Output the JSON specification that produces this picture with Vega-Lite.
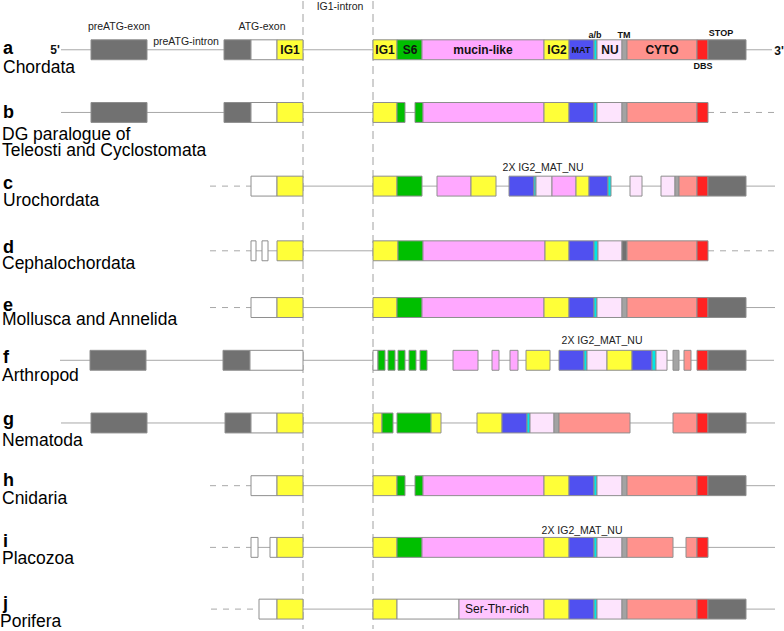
{
  "$schema": "https://vega.github.io/schema/vega-lite/v6.json",
  "width": 784,
  "height": 631,
  "autosize": {"type": "fit", "contains": "padding"},
  "padding": 0,
  "background": "white",
  "config": {"view": {"stroke": null}, "text": {"font": "Liberation Sans"}},
  "datasets": {
    "rows": [
      {"row": "a", "top": 39, "mid": 49, "bottom": 59},
      {"row": "b", "top": 102, "mid": 112, "bottom": 122},
      {"row": "c", "top": 176, "mid": 186, "bottom": 196},
      {"row": "d", "top": 241, "mid": 251, "bottom": 261},
      {"row": "e", "top": 298, "mid": 308, "bottom": 318},
      {"row": "f", "top": 351, "mid": 361, "bottom": 371},
      {"row": "g", "top": 414, "mid": 424, "bottom": 434},
      {"row": "h", "top": 477, "mid": 487, "bottom": 497},
      {"row": "i", "top": 539, "mid": 549, "bottom": 559},
      {"row": "j", "top": 601, "mid": 611, "bottom": 621}
    ],
    "boundaries": [
      {"name": "IG1 exon end", "x": 303},
      {"name": "IG1 intron end", "x": 373}
    ],
    "lines": [
      {"row": "a", "x0": 61, "x1": 772, "kind": "intron"},
      {"row": "b", "x0": 61, "x1": 708, "kind": "intron"},
      {"row": "b", "x0": 708, "x1": 775, "kind": "unknown"},
      {"row": "c", "x0": 210, "x1": 251, "kind": "unknown"},
      {"row": "c", "x0": 251, "x1": 775, "kind": "intron"},
      {"row": "d", "x0": 210, "x1": 251, "kind": "unknown"},
      {"row": "d", "x0": 251, "x1": 708, "kind": "intron"},
      {"row": "d", "x0": 708, "x1": 775, "kind": "unknown"},
      {"row": "e", "x0": 210, "x1": 251, "kind": "unknown"},
      {"row": "e", "x0": 251, "x1": 775, "kind": "intron"},
      {"row": "f", "x0": 60, "x1": 774, "kind": "intron"},
      {"row": "g", "x0": 61, "x1": 775, "kind": "intron"},
      {"row": "h", "x0": 210, "x1": 251, "kind": "unknown"},
      {"row": "h", "x0": 251, "x1": 775, "kind": "intron"},
      {"row": "i", "x0": 210, "x1": 251, "kind": "unknown"},
      {"row": "i", "x0": 251, "x1": 775, "kind": "intron"},
      {"row": "j", "x0": 211, "x1": 259, "kind": "unknown"},
      {"row": "j", "x0": 259, "x1": 775, "kind": "intron"}
    ],
    "boxes": [
      {"row": "a", "x0": 91, "x1": 147, "part": "UTR"},
      {"row": "a", "x0": 224, "x1": 251, "part": "UTR"},
      {"row": "a", "x0": 251, "x1": 277, "part": "other"},
      {"row": "a", "x0": 277, "x1": 303, "part": "IG"},
      {"row": "a", "x0": 373, "x1": 397, "part": "IG"},
      {"row": "a", "x0": 397, "x1": 422, "part": "S6"},
      {"row": "a", "x0": 422, "x1": 544, "part": "mucin"},
      {"row": "a", "x0": 544, "x1": 569, "part": "IG"},
      {"row": "a", "x0": 569, "x1": 594, "part": "MAT"},
      {"row": "a", "x0": 594, "x1": 597, "part": "ab"},
      {"row": "a", "x0": 597, "x1": 622, "part": "NU"},
      {"row": "a", "x0": 622, "x1": 627, "part": "TM"},
      {"row": "a", "x0": 627, "x1": 697, "part": "CYTO"},
      {"row": "a", "x0": 697, "x1": 708, "part": "DBS"},
      {"row": "a", "x0": 708, "x1": 746, "part": "UTR"},

      {"row": "b", "x0": 91, "x1": 147, "part": "UTR"},
      {"row": "b", "x0": 224, "x1": 251, "part": "UTR"},
      {"row": "b", "x0": 251, "x1": 277, "part": "other"},
      {"row": "b", "x0": 277, "x1": 303, "part": "IG"},
      {"row": "b", "x0": 373, "x1": 397, "part": "IG"},
      {"row": "b", "x0": 397, "x1": 405, "part": "S6"},
      {"row": "b", "x0": 415, "x1": 423, "part": "S6"},
      {"row": "b", "x0": 423, "x1": 544, "part": "mucin"},
      {"row": "b", "x0": 544, "x1": 569, "part": "IG"},
      {"row": "b", "x0": 569, "x1": 594, "part": "MAT"},
      {"row": "b", "x0": 594, "x1": 597, "part": "ab"},
      {"row": "b", "x0": 597, "x1": 622, "part": "NU"},
      {"row": "b", "x0": 622, "x1": 627, "part": "TM"},
      {"row": "b", "x0": 627, "x1": 697, "part": "CYTO"},
      {"row": "b", "x0": 697, "x1": 708, "part": "DBS"},

      {"row": "c", "x0": 251, "x1": 277, "part": "other"},
      {"row": "c", "x0": 277, "x1": 303, "part": "IG", "uncertain": true},
      {"row": "c", "x0": 373, "x1": 397, "part": "IG", "uncertain": true},
      {"row": "c", "x0": 397, "x1": 422, "part": "S6"},
      {"row": "c", "x0": 437, "x1": 471, "part": "mucin"},
      {"row": "c", "x0": 471, "x1": 496, "part": "IG"},
      {"row": "c", "x0": 509, "x1": 534, "part": "MAT"},
      {"row": "c", "x0": 534, "x1": 536, "part": "ab"},
      {"row": "c", "x0": 536, "x1": 552, "part": "NU"},
      {"row": "c", "x0": 552, "x1": 576, "part": "mucin"},
      {"row": "c", "x0": 576, "x1": 589, "part": "IG"},
      {"row": "c", "x0": 589, "x1": 608, "part": "MAT"},
      {"row": "c", "x0": 608, "x1": 611, "part": "ab"},
      {"row": "c", "x0": 630, "x1": 642, "part": "NU"},
      {"row": "c", "x0": 661, "x1": 675, "part": "NU"},
      {"row": "c", "x0": 675, "x1": 679, "part": "TM"},
      {"row": "c", "x0": 679, "x1": 697, "part": "CYTO"},
      {"row": "c", "x0": 697, "x1": 708, "part": "DBS"},
      {"row": "c", "x0": 708, "x1": 746, "part": "UTR"},

      {"row": "d", "x0": 251, "x1": 256, "part": "other"},
      {"row": "d", "x0": 262, "x1": 268, "part": "other"},
      {"row": "d", "x0": 277, "x1": 303, "part": "IG"},
      {"row": "d", "x0": 373, "x1": 398, "part": "IG"},
      {"row": "d", "x0": 398, "x1": 423, "part": "S6"},
      {"row": "d", "x0": 423, "x1": 545, "part": "mucin"},
      {"row": "d", "x0": 545, "x1": 569, "part": "IG"},
      {"row": "d", "x0": 569, "x1": 594, "part": "MAT"},
      {"row": "d", "x0": 594, "x1": 598, "part": "ab"},
      {"row": "d", "x0": 598, "x1": 622, "part": "NU"},
      {"row": "d", "x0": 622, "x1": 627, "part": "UTR"},
      {"row": "d", "x0": 627, "x1": 697, "part": "CYTO"},
      {"row": "d", "x0": 697, "x1": 708, "part": "DBS"},

      {"row": "e", "x0": 251, "x1": 277, "part": "other"},
      {"row": "e", "x0": 277, "x1": 303, "part": "IG"},
      {"row": "e", "x0": 373, "x1": 397, "part": "IG"},
      {"row": "e", "x0": 397, "x1": 422, "part": "S6"},
      {"row": "e", "x0": 422, "x1": 544, "part": "mucin"},
      {"row": "e", "x0": 544, "x1": 569, "part": "IG"},
      {"row": "e", "x0": 569, "x1": 594, "part": "MAT"},
      {"row": "e", "x0": 594, "x1": 597, "part": "ab"},
      {"row": "e", "x0": 597, "x1": 622, "part": "NU"},
      {"row": "e", "x0": 622, "x1": 627, "part": "TM"},
      {"row": "e", "x0": 627, "x1": 697, "part": "CYTO"},
      {"row": "e", "x0": 697, "x1": 708, "part": "DBS"},
      {"row": "e", "x0": 708, "x1": 746, "part": "UTR"},

      {"row": "f", "x0": 90, "x1": 146, "part": "UTR"},
      {"row": "f", "x0": 223, "x1": 250, "part": "UTR"},
      {"row": "f", "x0": 250, "x1": 303, "part": "other"},
      {"row": "f", "x0": 373, "x1": 378, "part": "other"},
      {"row": "f", "x0": 378, "x1": 385, "part": "S6"},
      {"row": "f", "x0": 388, "x1": 395, "part": "S6"},
      {"row": "f", "x0": 398, "x1": 405, "part": "S6"},
      {"row": "f", "x0": 409, "x1": 416, "part": "S6"},
      {"row": "f", "x0": 420, "x1": 427, "part": "S6"},
      {"row": "f", "x0": 453, "x1": 478, "part": "mucin", "uncertain": true},
      {"row": "f", "x0": 492, "x1": 499, "part": "mucin"},
      {"row": "f", "x0": 510, "x1": 518, "part": "mucin"},
      {"row": "f", "x0": 526, "x1": 550, "part": "IG"},
      {"row": "f", "x0": 559, "x1": 584, "part": "MAT"},
      {"row": "f", "x0": 584, "x1": 587, "part": "ab"},
      {"row": "f", "x0": 587, "x1": 607, "part": "NU"},
      {"row": "f", "x0": 607, "x1": 632, "part": "IG"},
      {"row": "f", "x0": 632, "x1": 652, "part": "MAT"},
      {"row": "f", "x0": 652, "x1": 656, "part": "ab"},
      {"row": "f", "x0": 656, "x1": 667, "part": "NU"},
      {"row": "f", "x0": 673, "x1": 679, "part": "TM"},
      {"row": "f", "x0": 684, "x1": 691, "part": "CYTO"},
      {"row": "f", "x0": 697, "x1": 708, "part": "DBS"},
      {"row": "f", "x0": 708, "x1": 746, "part": "UTR"},

      {"row": "g", "x0": 91, "x1": 147, "part": "UTR"},
      {"row": "g", "x0": 225, "x1": 251, "part": "UTR"},
      {"row": "g", "x0": 251, "x1": 277, "part": "other"},
      {"row": "g", "x0": 277, "x1": 303, "part": "IG"},
      {"row": "g", "x0": 373, "x1": 382, "part": "IG"},
      {"row": "g", "x0": 382, "x1": 393, "part": "S6", "uncertain": true},
      {"row": "g", "x0": 397, "x1": 431, "part": "S6", "uncertain": true},
      {"row": "g", "x0": 431, "x1": 441, "part": "IG"},
      {"row": "g", "x0": 477, "x1": 502, "part": "IG"},
      {"row": "g", "x0": 502, "x1": 527, "part": "MAT"},
      {"row": "g", "x0": 527, "x1": 530, "part": "ab"},
      {"row": "g", "x0": 530, "x1": 554, "part": "NU"},
      {"row": "g", "x0": 554, "x1": 559, "part": "TM"},
      {"row": "g", "x0": 559, "x1": 630, "part": "CYTO"},
      {"row": "g", "x0": 673, "x1": 697, "part": "CYTO"},
      {"row": "g", "x0": 697, "x1": 708, "part": "DBS"},
      {"row": "g", "x0": 708, "x1": 746, "part": "UTR"},

      {"row": "h", "x0": 251, "x1": 277, "part": "other"},
      {"row": "h", "x0": 277, "x1": 303, "part": "IG"},
      {"row": "h", "x0": 373, "x1": 397, "part": "IG"},
      {"row": "h", "x0": 397, "x1": 405, "part": "S6"},
      {"row": "h", "x0": 415, "x1": 423, "part": "S6"},
      {"row": "h", "x0": 423, "x1": 544, "part": "mucin"},
      {"row": "h", "x0": 544, "x1": 569, "part": "IG"},
      {"row": "h", "x0": 569, "x1": 594, "part": "MAT"},
      {"row": "h", "x0": 594, "x1": 597, "part": "ab"},
      {"row": "h", "x0": 597, "x1": 622, "part": "NU"},
      {"row": "h", "x0": 622, "x1": 627, "part": "TM"},
      {"row": "h", "x0": 627, "x1": 697, "part": "CYTO"},
      {"row": "h", "x0": 697, "x1": 708, "part": "DBS"},
      {"row": "h", "x0": 708, "x1": 746, "part": "UTR"},

      {"row": "i", "x0": 251, "x1": 258, "part": "other"},
      {"row": "i", "x0": 270, "x1": 277, "part": "other"},
      {"row": "i", "x0": 277, "x1": 303, "part": "IG"},
      {"row": "i", "x0": 373, "x1": 397, "part": "IG"},
      {"row": "i", "x0": 397, "x1": 422, "part": "S6"},
      {"row": "i", "x0": 422, "x1": 544, "part": "mucin"},
      {"row": "i", "x0": 544, "x1": 569, "part": "IG"},
      {"row": "i", "x0": 569, "x1": 594, "part": "MAT"},
      {"row": "i", "x0": 594, "x1": 597, "part": "ab"},
      {"row": "i", "x0": 597, "x1": 622, "part": "NU"},
      {"row": "i", "x0": 622, "x1": 627, "part": "TM"},
      {"row": "i", "x0": 627, "x1": 673, "part": "CYTO"},
      {"row": "i", "x0": 686, "x1": 697, "part": "CYTO"},
      {"row": "i", "x0": 697, "x1": 708, "part": "DBS"},

      {"row": "j", "x0": 259, "x1": 277, "part": "other"},
      {"row": "j", "x0": 277, "x1": 303, "part": "IG"},
      {"row": "j", "x0": 373, "x1": 397, "part": "IG"},
      {"row": "j", "x0": 397, "x1": 459, "part": "other"},
      {"row": "j", "x0": 459, "x1": 544, "part": "SerThr"},
      {"row": "j", "x0": 544, "x1": 569, "part": "IG"},
      {"row": "j", "x0": 569, "x1": 594, "part": "MAT"},
      {"row": "j", "x0": 594, "x1": 597, "part": "ab"},
      {"row": "j", "x0": 597, "x1": 622, "part": "NU"},
      {"row": "j", "x0": 622, "x1": 627, "part": "TM"},
      {"row": "j", "x0": 627, "x1": 697, "part": "CYTO"},
      {"row": "j", "x0": 697, "x1": 708, "part": "DBS"},
      {"row": "j", "x0": 708, "x1": 746, "part": "UTR"}
    ],
    "labels": [
      {"kind": "letter", "text": "a", "x": 3, "y": 48},
      {"kind": "letter", "text": "b", "x": 3, "y": 113},
      {"kind": "letter", "text": "c", "x": 3, "y": 184},
      {"kind": "letter", "text": "d", "x": 3, "y": 248},
      {"kind": "letter", "text": "e", "x": 3, "y": 306},
      {"kind": "letter", "text": "f", "x": 3, "y": 359},
      {"kind": "letter", "text": "g", "x": 3, "y": 421},
      {"kind": "letter", "text": "h", "x": 3, "y": 482},
      {"kind": "letter", "text": "i", "x": 3, "y": 544},
      {"kind": "letter", "text": "j", "x": 3, "y": 606},
      {"kind": "name", "text": "Chordata", "x": 3, "y": 67},
      {"kind": "name", "text": "DG paralogue of", "x": 2, "y": 135},
      {"kind": "name", "text": "Teleosti and Cyclostomata", "x": 2, "y": 151},
      {"kind": "name", "text": "Urochordata", "x": 3, "y": 201},
      {"kind": "name", "text": "Cephalochordata", "x": 2, "y": 264},
      {"kind": "name", "text": "Mollusca and Annelida", "x": 2, "y": 321},
      {"kind": "name", "text": "Arthropod", "x": 2, "y": 377},
      {"kind": "name", "text": "Nematoda", "x": 2, "y": 442},
      {"kind": "name", "text": "Cnidaria", "x": 2, "y": 500},
      {"kind": "name", "text": "Placozoa", "x": 2, "y": 561},
      {"kind": "name", "text": "Porifera", "x": 0, "y": 624},
      {"kind": "note", "text": "preATG-exon", "x": 119, "y": 26},
      {"kind": "note", "text": "preATG-intron", "x": 186, "y": 41},
      {"kind": "note", "text": "ATG-exon", "x": 262, "y": 26},
      {"kind": "note", "text": "IG1-intron", "x": 340, "y": 6},
      {"kind": "note", "text": "2X IG2_MAT_NU", "x": 543, "y": 168},
      {"kind": "note", "text": "2X IG2_MAT_NU", "x": 602, "y": 342},
      {"kind": "note", "text": "2X IG2_MAT_NU", "x": 582, "y": 533},
      {"kind": "tag", "text": "a/b", "x": 595, "y": 34},
      {"kind": "tag", "text": "TM", "x": 624, "y": 34},
      {"kind": "tag", "text": "STOP", "x": 721, "y": 32},
      {"kind": "tag", "text": "DBS", "x": 703, "y": 65},
      {"kind": "tag", "text": "MAT", "x": 581, "y": 49},
      {"kind": "domain", "text": "5'", "x": 55, "y": 49},
      {"kind": "domain", "text": "3'", "x": 779, "y": 50},
      {"kind": "domain", "text": "IG1", "x": 290, "y": 49},
      {"kind": "domain", "text": "IG1", "x": 385, "y": 49},
      {"kind": "domain", "text": "S6", "x": 410, "y": 49},
      {"kind": "domain", "text": "mucin-like", "x": 483, "y": 49},
      {"kind": "domain", "text": "IG2", "x": 557, "y": 49},
      {"kind": "domain", "text": "NU", "x": 610, "y": 49},
      {"kind": "domain", "text": "CYTO", "x": 662, "y": 49},
      {"kind": "plain", "text": "Ser-Thr-rich", "x": 497, "y": 611}
    ]
  },
  "layer": [
    {
      "data": {"name": "boundaries"},
      "mark": {"type": "rule", "color": "#a0a0a0", "strokeWidth": 1, "strokeDash": [8, 5]},
      "encoding": {
        "x": {"field": "x", "type": "quantitative", "scale": {"domain": [0, 784]}, "axis": null}
      }
    },
    {
      "data": {"name": "lines"},
      "transform": [{"lookup": "row", "from": {"data": {"name": "rows"}, "key": "row", "fields": ["mid"]}}],
      "mark": {"type": "rule", "color": "#a8a8a8", "strokeWidth": 1},
      "encoding": {
        "x": {"field": "x0", "type": "quantitative", "scale": {"domain": [0, 784]}, "axis": null},
        "x2": {"field": "x1"},
        "y": {"field": "mid", "type": "quantitative", "scale": {"domain": [0, 631], "reverse": true}, "axis": null},
        "strokeDash": {"condition": {"test": "datum.kind === 'unknown'", "value": [6, 6]}, "value": [1, 0]}
      }
    },
    {
      "data": {"name": "boxes"},
      "transform": [{"lookup": "row", "from": {"data": {"name": "rows"}, "key": "row", "fields": ["top", "bottom"]}}],
      "mark": {"type": "rect", "stroke": "#8e8e8e", "strokeWidth": 1},
      "encoding": {
        "x": {"field": "x0", "type": "quantitative", "scale": {"domain": [0, 784]}, "axis": null},
        "x2": {"field": "x1"},
        "y": {"field": "top", "type": "quantitative", "scale": {"domain": [0, 631], "reverse": true}, "axis": null},
        "y2": {"field": "bottom"},
        "fill": {
          "field": "part", "type": "nominal", "legend": null,
          "scale": {
            "domain": ["UTR", "other", "IG", "S6", "mucin", "MAT", "ab", "NU", "TM", "CYTO", "DBS", "SerThr"],
            "range": ["#717171", "#ffffff", "#ffff38", "#00bf00", "#ffa8ff", "#5050f0", "#00e6e6", "#fde4fd", "#a3a3a3", "#ff928d", "#ff2222", "#ffc6ff"]
          }
        },
        "strokeDash": {"condition": {"test": "datum.uncertain === true", "value": [3, 2]}, "value": [1, 0]}
      }
    },
    {
      "data": {"name": "labels"},
      "transform": [{"filter": "datum.kind === 'letter'"}],
      "mark": {"type": "text", "align": "left", "baseline": "middle", "fontSize": 18, "fontWeight": "bold", "color": "#000"},
      "encoding": {
        "x": {"field": "x", "type": "quantitative", "scale": {"domain": [0, 784]}, "axis": null},
        "y": {"field": "y", "type": "quantitative", "scale": {"domain": [0, 631], "reverse": true}, "axis": null},
        "text": {"field": "text"}
      }
    },
    {
      "data": {"name": "labels"},
      "transform": [{"filter": "datum.kind === 'name'"}],
      "mark": {"type": "text", "align": "left", "baseline": "middle", "fontSize": 17.5, "color": "#000"},
      "encoding": {
        "x": {"field": "x", "type": "quantitative", "scale": {"domain": [0, 784]}, "axis": null},
        "y": {"field": "y", "type": "quantitative", "scale": {"domain": [0, 631], "reverse": true}, "axis": null},
        "text": {"field": "text"}
      }
    },
    {
      "data": {"name": "labels"},
      "transform": [{"filter": "datum.kind === 'note'"}],
      "mark": {"type": "text", "align": "center", "baseline": "middle", "fontSize": 10.5, "color": "#222"},
      "encoding": {
        "x": {"field": "x", "type": "quantitative", "scale": {"domain": [0, 784]}, "axis": null},
        "y": {"field": "y", "type": "quantitative", "scale": {"domain": [0, 631], "reverse": true}, "axis": null},
        "text": {"field": "text"}
      }
    },
    {
      "data": {"name": "labels"},
      "transform": [{"filter": "datum.kind === 'tag'"}],
      "mark": {"type": "text", "align": "center", "baseline": "middle", "fontSize": 9, "fontWeight": "bold", "color": "#111"},
      "encoding": {
        "x": {"field": "x", "type": "quantitative", "scale": {"domain": [0, 784]}, "axis": null},
        "y": {"field": "y", "type": "quantitative", "scale": {"domain": [0, 631], "reverse": true}, "axis": null},
        "text": {"field": "text"}
      }
    },
    {
      "data": {"name": "labels"},
      "transform": [{"filter": "datum.kind === 'domain'"}],
      "mark": {"type": "text", "align": "center", "baseline": "middle", "fontSize": 12, "fontWeight": "bold", "color": "#111"},
      "encoding": {
        "x": {"field": "x", "type": "quantitative", "scale": {"domain": [0, 784]}, "axis": null},
        "y": {"field": "y", "type": "quantitative", "scale": {"domain": [0, 631], "reverse": true}, "axis": null},
        "text": {"field": "text"}
      }
    },
    {
      "data": {"name": "labels"},
      "transform": [{"filter": "datum.kind === 'plain'"}],
      "mark": {"type": "text", "align": "center", "baseline": "middle", "fontSize": 12, "color": "#111"},
      "encoding": {
        "x": {"field": "x", "type": "quantitative", "scale": {"domain": [0, 784]}, "axis": null},
        "y": {"field": "y", "type": "quantitative", "scale": {"domain": [0, 631], "reverse": true}, "axis": null},
        "text": {"field": "text"}
      }
    }
  ]
}
